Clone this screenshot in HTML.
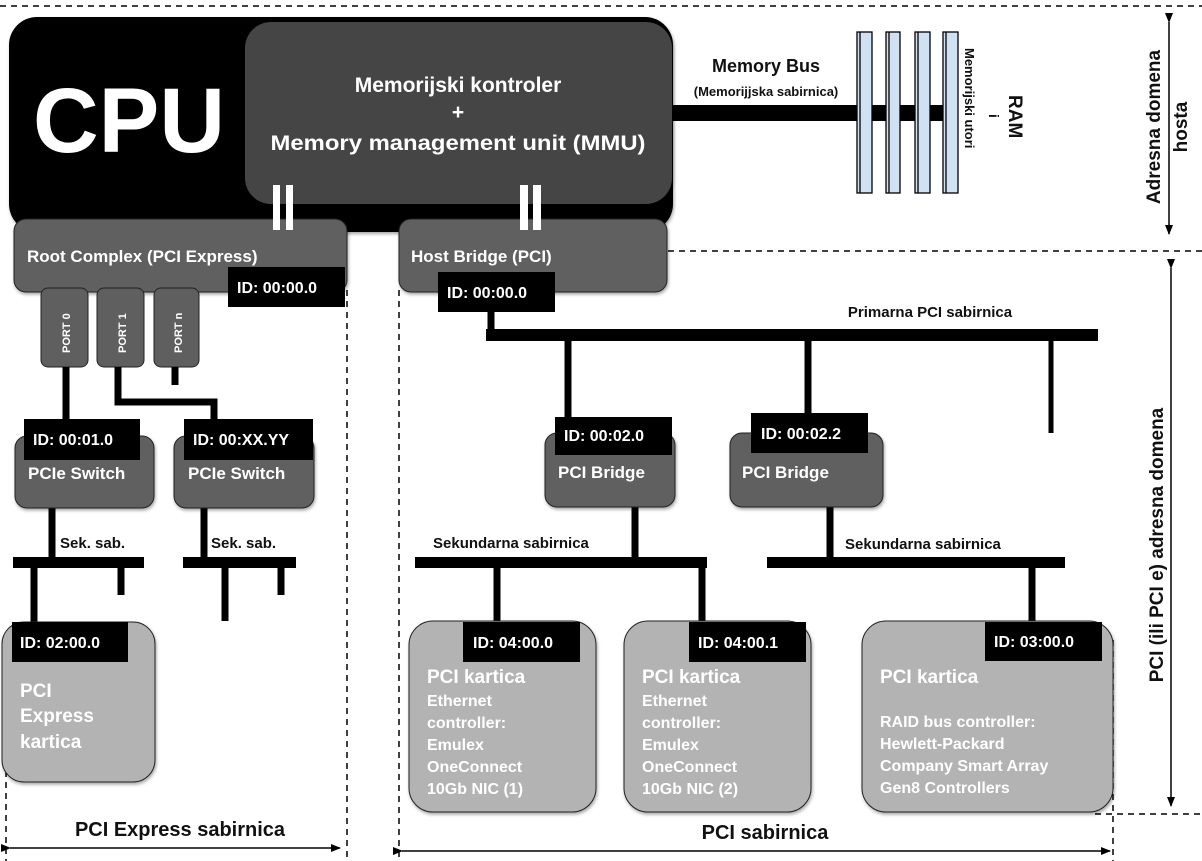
<!DOCTYPE html>
<html><head><meta charset="utf-8"><style>
html,body{margin:0;padding:0;background:#fff}
svg{display:block}
text{font-family:"Liberation Sans",Arial,sans-serif;font-weight:bold}
</style></head><body>
<svg width="1202" height="861" viewBox="0 0 1202 861" xmlns="http://www.w3.org/2000/svg">
<defs>
<marker id="ah" markerWidth="10" markerHeight="8" refX="9" refY="4" orient="auto" markerUnits="userSpaceOnUse"><path d="M0,0 L10,4 L0,8 z" fill="#000"/></marker>
<filter id="sh" x="-5%" y="-5%" width="110%" height="115%"><feDropShadow dx="1" dy="2" stdDeviation="1.5" flood-opacity="0.35"/></filter>
</defs>
<g stroke="#000" stroke-width="1.5" stroke-dasharray="6,5" fill="none">
<line x1="0" y1="6" x2="1202" y2="6"/>
<line x1="668" y1="251" x2="1202" y2="251"/>
<line x1="1095" y1="814" x2="1202" y2="814"/>
<line x1="347" y1="290" x2="347" y2="861"/>
<line x1="399" y1="290" x2="399" y2="861"/>
<line x1="6" y1="760" x2="6" y2="861"/>
<line x1="1113" y1="640" x2="1113" y2="861"/>
</g>
<rect x="9" y="17" width="664" height="215" rx="28" fill="#000" filter="url(#sh)"/>
<rect x="245" y="22" width="427" height="182" rx="26" fill="#444" filter="url(#sh)"/>
<text x="33" y="152" font-size="92" fill="#fff" textLength="192" lengthAdjust="spacingAndGlyphs">CPU</text>
<text x="458" y="92" font-size="21" fill="#fff" text-anchor="middle">Memorijski kontroler</text>
<text x="458" y="119" font-size="21" fill="#fff" text-anchor="middle">+</text>
<text x="458" y="150" font-size="21" fill="#fff" text-anchor="middle" textLength="375" lengthAdjust="spacingAndGlyphs">Memory management unit (MMU)</text>
<rect x="672" y="105" width="275" height="16" fill="#000"/>
<text x="766" y="72" font-size="18" fill="#111" text-anchor="middle">Memory Bus</text>
<text x="766" y="96" font-size="13" fill="#111" text-anchor="middle">(Memorijjska sabirnica)</text>
<g fill="#d0e1f3" stroke="#000" stroke-width="1.3">
<rect x="857" y="32" width="15" height="161"/><line x1="860" y1="32" x2="860" y2="193"/>
<rect x="886" y="32" width="14" height="161"/><line x1="889" y1="32" x2="889" y2="193"/>
<rect x="915" y="32" width="15" height="161"/><line x1="918" y1="32" x2="918" y2="193"/>
<rect x="943" y="32" width="15" height="161"/><line x1="946" y1="32" x2="946" y2="193"/>
</g>
<text transform="translate(965,48) rotate(90)" font-size="13" fill="#111">Memorijski utori</text>
<text transform="translate(989,114) rotate(90)" font-size="14" fill="#111">i</text>
<text transform="translate(1009,95) rotate(90)" font-size="19" fill="#111">RAM</text>
<line x1="1169" y1="22" x2="1169" y2="234" stroke="#000" stroke-width="1.5" marker-end="url(#ah)" marker-start="url(#ah)"/>
<text transform="translate(1160,127) rotate(-90)" font-size="19" fill="#111" text-anchor="middle">Adresna domena</text>
<text transform="translate(1187,127) rotate(-90)" font-size="19" fill="#111" text-anchor="middle">hosta</text>
<line x1="1171" y1="268" x2="1171" y2="806" stroke="#000" stroke-width="1.5" marker-end="url(#ah)" marker-start="url(#ah)"/>
<text transform="translate(1163,545) rotate(-90)" font-size="19" fill="#111" text-anchor="middle">PCI (ili PCI e) adresna domena</text>
<rect x="14" y="219" width="333" height="73" rx="12" fill="#606060" stroke="#222" stroke-width="1" filter="url(#sh)"/>
<rect x="399" y="219" width="268" height="73" rx="12" fill="#606060" stroke="#222" stroke-width="1" filter="url(#sh)"/>
<g fill="#fff"><rect x="273" y="185" width="7" height="45"/><rect x="286" y="185" width="7" height="45"/><rect x="520" y="185" width="8" height="45"/><rect x="533" y="185" width="8" height="45"/></g>
<text x="27" y="262" font-size="17" fill="#fff">Root Complex (PCI Express)</text>
<text x="411" y="262" font-size="17" fill="#fff">Host Bridge (PCI)</text>
<rect x="228" y="267" width="117" height="40" fill="#000"/>
<text x="237" y="293" font-size="16" fill="#fff">ID: 00:00.0</text>
<rect x="438" y="272" width="117" height="40" fill="#000"/>
<text x="447" y="298" font-size="16" fill="#fff">ID: 00:00.0</text>
<g fill="#5f5f5f" stroke="#222" stroke-width="1">
<rect x="41" y="288" width="47" height="79" rx="7"/>
<rect x="97" y="288" width="47" height="79" rx="7"/>
<rect x="154" y="288" width="45" height="79" rx="7"/>
</g>
<text transform="translate(70,353) rotate(-90)" font-size="11" fill="#fff">PORT 0</text>
<text transform="translate(126,353) rotate(-90)" font-size="11" fill="#fff">PORT 1</text>
<text transform="translate(182,353) rotate(-90)" font-size="11" fill="#fff">PORT n</text>
<g stroke="#000" stroke-width="7" fill="none">
<line x1="66" y1="367" x2="66" y2="420"/>
<polyline points="118,367 118,402 214,402 214,420"/>
<line x1="175" y1="367" x2="175" y2="385"/>
<line x1="491" y1="312" x2="491" y2="335"/>
<line x1="568" y1="340" x2="568" y2="420"/>
<line x1="808" y1="340" x2="808" y2="415"/>
<line x1="52" y1="508" x2="52" y2="560"/>
<line x1="204" y1="508" x2="204" y2="560"/>
<line x1="34" y1="568" x2="34" y2="622"/>
<line x1="121" y1="568" x2="121" y2="595"/>
<line x1="225" y1="568" x2="225" y2="621"/>
<line x1="281" y1="568" x2="281" y2="595"/>
<line x1="635" y1="505" x2="635" y2="560"/>
<line x1="830" y1="505" x2="830" y2="560"/>
<line x1="497" y1="568" x2="497" y2="622"/>
<line x1="702" y1="568" x2="702" y2="622"/>
<line x1="1032" y1="568" x2="1032" y2="622"/>
</g>
<line x1="1051" y1="340" x2="1051" y2="433" stroke="#000" stroke-width="5"/>
<g fill="#000">
<rect x="486" y="329" width="612" height="12"/>
<rect x="13" y="557" width="131" height="11"/>
<rect x="183" y="557" width="113" height="11"/>
<rect x="415" y="557" width="292" height="11"/>
<rect x="767" y="557" width="298" height="11"/>
</g>
<text x="930" y="317" font-size="15" fill="#111" text-anchor="middle">Primarna PCI sabirnica</text>
<rect x="15" y="436" width="139" height="72" rx="12" fill="#606060" stroke="#222" stroke-width="1" filter="url(#sh)"/>
<rect x="174" y="436" width="140" height="72" rx="12" fill="#606060" stroke="#222" stroke-width="1" filter="url(#sh)"/>
<rect x="24" y="419" width="116" height="41" fill="#000"/>
<rect x="184" y="419" width="129" height="41" fill="#000"/>
<text x="33" y="445" font-size="16" fill="#fff">ID: 00:01.0</text>
<text x="193" y="445" font-size="16" fill="#fff">ID: 00:XX.YY</text>
<text x="28" y="479" font-size="17" fill="#fff">PCIe Switch</text>
<text x="188" y="479" font-size="17" fill="#fff">PCIe Switch</text>
<text x="60" y="548" font-size="15" fill="#111">Sek. sab.</text>
<text x="211" y="548" font-size="15" fill="#111">Sek. sab.</text>
<rect x="545" y="433" width="130" height="74" rx="12" fill="#606060" stroke="#222" stroke-width="1" filter="url(#sh)"/>
<rect x="730" y="433" width="153" height="74" rx="12" fill="#606060" stroke="#222" stroke-width="1" filter="url(#sh)"/>
<rect x="555" y="417" width="117" height="38" fill="#000"/>
<rect x="751" y="413" width="117" height="40" fill="#000"/>
<text x="564" y="441" font-size="16" fill="#fff">ID: 00:02.0</text>
<text x="761" y="439" font-size="16" fill="#fff">ID: 00:02.2</text>
<text x="558" y="478" font-size="17" fill="#fff">PCI Bridge</text>
<text x="742" y="478" font-size="17" fill="#fff">PCI Bridge</text>
<text x="433" y="548" font-size="15" fill="#111">Sekundarna sabirnica</text>
<text x="845" y="549" font-size="15" fill="#111">Sekundarna sabirnica</text>
<g fill="#b3b3b3" stroke="#222" stroke-width="1" filter="url(#sh)">
<rect x="2" y="622" width="153" height="160" rx="22"/>
<rect x="409" y="621" width="187" height="191" rx="24"/>
<rect x="624" y="621" width="187" height="191" rx="24"/>
<rect x="862" y="621" width="251" height="191" rx="24"/>
</g>
<g fill="#000">
<rect x="12" y="622" width="116" height="40"/>
<rect x="463" y="622" width="117" height="40"/>
<rect x="689" y="622" width="117" height="40"/>
<rect x="985" y="622" width="117" height="39"/>
</g>
<g font-size="16" fill="#fff">
<text x="20" y="648">ID: 02:00.0</text>
<text x="473" y="648">ID: 04:00.0</text>
<text x="698" y="648">ID: 04:00.1</text>
<text x="994" y="647">ID: 03:00.0</text>
</g>
<g font-size="19" fill="#fff">
<text x="20" y="697">PCI</text>
<text x="20" y="722">Express</text>
<text x="20" y="748">kartica</text>
<text x="427" y="683">PCI kartica</text>
<text x="642" y="683">PCI kartica</text>
<text x="880" y="683">PCI kartica</text>
</g>
<g font-size="16" fill="#fff">
<text x="427" y="706">Ethernet</text>
<text x="427" y="728">controller:</text>
<text x="427" y="750">Emulex</text>
<text x="427" y="772">OneConnect</text>
<text x="427" y="794">10Gb NIC (1)</text>
<text x="642" y="706">Ethernet</text>
<text x="642" y="728">controller:</text>
<text x="642" y="750">Emulex</text>
<text x="642" y="772">OneConnect</text>
<text x="642" y="794">10Gb NIC (2)</text>
<text x="880" y="727">RAID bus controller:</text>
<text x="880" y="749">Hewlett-Packard</text>
<text x="880" y="771">Company Smart Array</text>
<text x="880" y="793">Gen8 Controllers</text>
</g>
<text x="180" y="836" font-size="20" fill="#111" text-anchor="middle">PCI Express sabirnica</text>
<line x1="10" y1="848" x2="340" y2="848" stroke="#000" stroke-width="1.5" marker-end="url(#ah)" marker-start="url(#ah)"/>
<text x="765" y="839" font-size="20" fill="#111" text-anchor="middle">PCI sabirnica</text>
<line x1="402" y1="851" x2="1110" y2="851" stroke="#000" stroke-width="1.5" marker-end="url(#ah)" marker-start="url(#ah)"/>
</svg>
</body></html>
